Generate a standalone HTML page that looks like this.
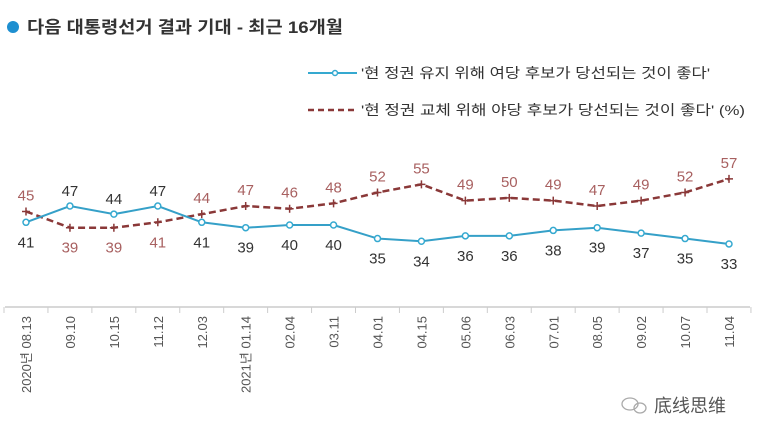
<!DOCTYPE html>
<html><head><meta charset="utf-8">
<style>
body{margin:0;background:#fff;width:757px;height:437px;overflow:hidden;font-family:"Liberation Sans","Noto Sans CJK KR",sans-serif;}
svg{display:block}
</style></head><body>
<svg width="757" height="437" id="chart">
<circle cx="13" cy="27" r="6" fill="#1e8fd0"/>
<text x="27" y="33" font-size="17" font-weight="bold" fill="#333" textLength="316" lengthAdjust="spacingAndGlyphs">다음 대통령선거 결과 기대 - 최근 16개월</text>
<g>
<g>
<line x1="308" y1="73" x2="357" y2="73" stroke="#35a9d0" stroke-width="2"/>
<circle cx="335" cy="73" r="2.5" fill="#fff" stroke="#35a9d0" stroke-width="1.5"/>
<text x="361" y="78" font-size="14" fill="#333" textLength="349" lengthAdjust="spacingAndGlyphs">'현 정권 유지 위해 여당 후보가 당선되는 것이 좋다'</text>
</g>
<g>
<line x1="308" y1="110" x2="357" y2="110" stroke="#8a3838" stroke-width="2.5" stroke-dasharray="6,4"/>
<text x="361" y="115" font-size="14" fill="#333" textLength="384" lengthAdjust="spacingAndGlyphs">'현 정권 교체 위해 야당 후보가 당선되는 것이 좋다' (%)</text>
</g>
</g>
<g id="axis"></g>
<g id="series"></g>
<g transform="translate(640,405)">
<ellipse cx="-10" cy="-1" rx="8" ry="6" fill="none" stroke="#aaa" stroke-width="1.3"/>
<ellipse cx="0" cy="3" rx="6" ry="5" fill="none" stroke="#aaa" stroke-width="1.3"/>
<text x="14" y="7" font-size="18" fill="#555" font-family="Liberation Sans, Noto Sans CJK SC, sans-serif">底线思维</text>
</g>
</svg>
<script>
const categories=["08.13","09.10","10.15","11.12","12.03","01.14","02.04","03.11","04.01","04.15","05.06","06.03","07.01","08.05","09.02","10.07","11.04"];
const yearPrefix=["2020년 ","","","","","2021년 ","","","","","","","","","","",""];
const rulingValues=[41,47,44,47,41,39,40,40,35,34,36,36,38,39,37,35,33];
const oppositionValues=[45,39,39,41,44,47,46,48,52,55,49,50,49,47,49,52,57];
const NS="http://www.w3.org/2000/svg";
function xScale(i){return 26+i*(729-26)/(categories.length-1);}
function yScale(v){return 333.4-v*2.71;}
function mk(tag,attrs,parent){const e=document.createElementNS(NS,tag);for(const k in attrs)e.setAttribute(k,attrs[k]);parent.appendChild(e);return e;}
const axis=document.getElementById('axis'),series=document.getElementById('series');
let al=mk('line',{x1:5,y1:307,x2:750,y2:307,stroke:'#ccc','stroke-width':1.5},axis);


for(let i=0;i<=categories.length;i++){const tx=xScale(i)-22;let t=mk('line',{x1:tx,y1:307,x2:tx,y2:313,stroke:'#ccc'},axis);

}
categories.forEach((c,i)=>{const x=xScale(i)+5;const t=mk('text',{x:0,y:0,transform:`translate(${x},316) rotate(-90)`,'text-anchor':'end','font-size':13,fill:'#555'},axis);t.textContent=yearPrefix[i]+c;

});
function path(vals){return vals.map((v,i)=>(i?'L':'M')+xScale(i)+','+yScale(v)).join(' ');}
let rp=mk('path',{d:path(oppositionValues),fill:'none',stroke:'#8a3838','stroke-width':2.5,'stroke-dasharray':'7,4'},series);


let bp=mk('path',{d:path(rulingValues),fill:'none',stroke:'#35a0c8','stroke-width':2},series);


rulingValues.forEach((v,i)=>{const x=xScale(i),y=yScale(v);
let c=mk('circle',{cx:x,cy:y,r:3,fill:'#fff',stroke:'#35a9d0','stroke-width':1.5},series);


const above=v>oppositionValues[i];
const t=mk('text',{x:x,y:above?y-10:y+25,'text-anchor':'middle','font-size':15,fill:'#333'},series);t.textContent=v;

});
oppositionValues.forEach((v,i)=>{const x=xScale(i),y=yScale(v);
let m=mk('path',{d:`M${x-4},${y}H${x+4}M${x},${y-4}V${y+4}`,stroke:'#8a3838','stroke-width':1.5},series);


const above=v>rulingValues[i];
const t=mk('text',{x:x,y:above?y-11:y+25,'text-anchor':'middle','font-size':15,fill:'#a86060'},series);t.textContent=v;

});
</script>
</body></html>
